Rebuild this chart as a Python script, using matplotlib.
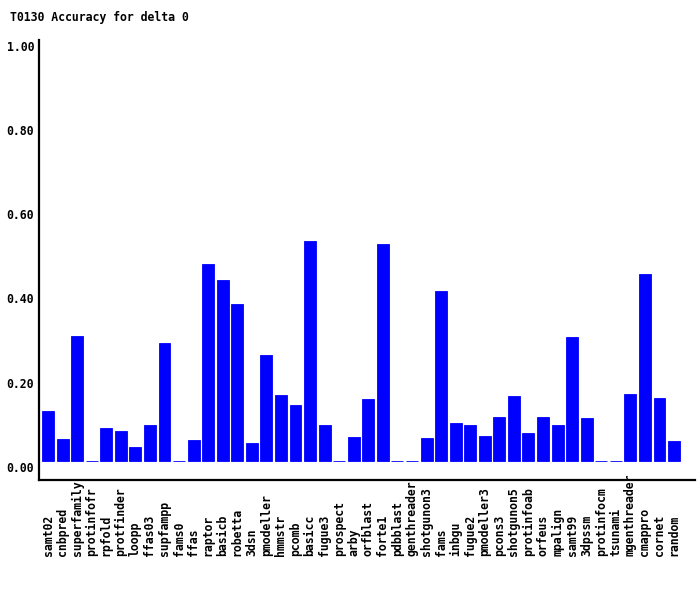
import matplotlib
matplotlib.use("Agg")
import matplotlib.pyplot as plt
from matplotlib.transforms import ScaledTranslation, blended_transform_factory

title = "T0130 Accuracy for delta 0"
methods = ["samt02", "cnbpred", "superfamily", "protinfofr", "rpfold", "protfinder",
           "loopp", "ffas03", "supfampp", "fams0", "ffas", "raptor", "basicb",
           "robetta", "3dsn", "pmodeller", "hmmstr", "pcomb", "basicc", "fugue3",
           "prospect", "arby", "orfblast", "forte1", "pdbblast", "genthreader",
           "shotgunon3", "fams", "inbgu", "fugue2", "pmodeller3", "pcons3",
           "shotgunon5", "protinfoab", "orfeus", "mpalign", "samt99", "3dpssm",
           "protinfocm", "tsunami", "mgenthreader", "cmappro", "cornet", "random"]
accuracy = [0.118, 0.052, 0.297, 0.0, 0.078, 0.071, 0.033, 0.085, 0.280, 0.0,
            0.049, 0.468, 0.430, 0.373, 0.042, 0.252, 0.157, 0.133, 0.523, 0.085,
            0.0, 0.056, 0.147, 0.514, 0.0, 0.0, 0.054, 0.404, 0.090, 0.085,
            0.059, 0.104, 0.154, 0.066, 0.104, 0.085, 0.294, 0.101, 0.0, 0.0,
            0.159, 0.444, 0.149, 0.047]
ytick_vals = [0.0, 0.2, 0.4, 0.6, 0.8, 1.0]
ytick_labels = ["0.00", "0.20", "0.40", "0.60", "0.80", "1.00"]

FONT = "DejaVu Sans Mono"
FS = 8.3

fig = plt.figure(figsize=(7.0, 5.9), dpi=100)
ax = fig.add_axes([39/700, 110/590, 656/700, 440/590])

x = list(range(len(methods)))
ax.bar(x, accuracy, width=0.82, color="#0000ff", edgecolor="#0000ff", linewidth=0.6)

ax.set_xlim(-0.62, len(methods) - 1 + 1.44)
ax.set_ylim(-0.046, 1.0)

for s in ["top", "right"]:
    ax.spines[s].set_visible(False)
for s in ["left", "bottom"]:
    ax.spines[s].set_linewidth(1.6)
    ax.spines[s].set_color("black")

ax.set_xticks([])
ax.set_yticks(ytick_vals)
ax.set_yticklabels(ytick_labels, fontfamily=FONT, fontweight="bold", fontsize=FS)
ax.tick_params(axis="y", length=0, pad=3.6)
off = ScaledTranslation(0, -6/100, fig.dpi_scale_trans)
for lab in ax.get_yticklabels():
    lab.set_transform(lab.get_transform() + off)

trans = blended_transform_factory(ax.transData, fig.transFigure)
for xi, name in zip(x, methods):
    ax.text(xi, (590 - 556) / 590, name, transform=trans, rotation=90,
            ha="center", va="bottom", fontfamily=FONT, fontweight="bold",
            fontsize=FS, clip_on=False)

fig.text(10/700, 1 - 17/590, title, ha="left", va="center",
         fontfamily=FONT, fontweight="bold", fontsize=FS)

fig.savefig("out.png", dpi=100, facecolor="white")
